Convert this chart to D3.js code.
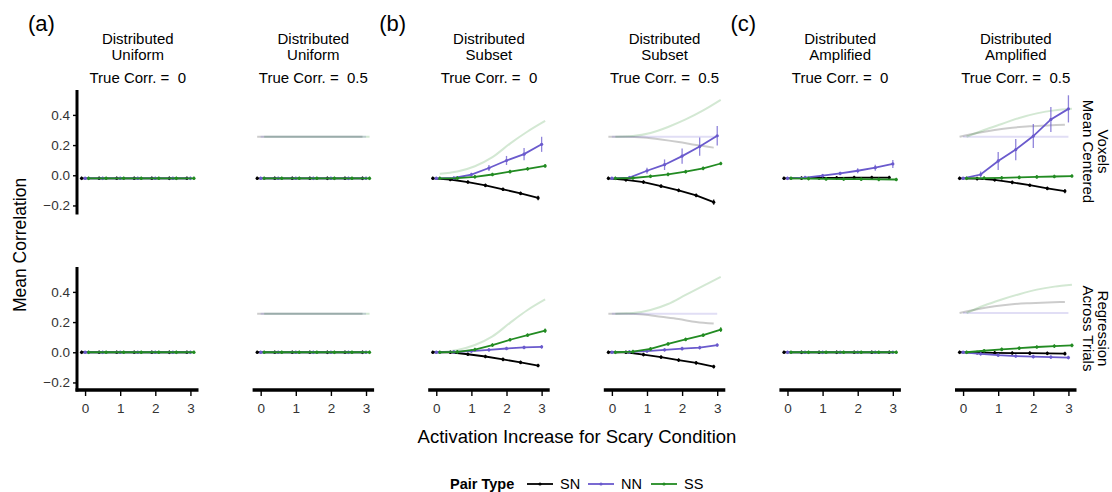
<!DOCTYPE html>
<html>
<head>
<meta charset="utf-8">
<script src="https://cdn.jsdelivr.net/npm/d3@7"></script>
<style>
  html, body { margin: 0; padding: 0; background: #fff; }
  svg text { font-family: "Liberation Sans", Arial, Helvetica, sans-serif; }
</style>
</head>
<body>
<svg id="chart" width="1112" height="492"></svg>
<script>
// Activation steps on the x axis
const steps = [0, 0.5, 1, 1.5, 2, 2.5, 3];
const xTicks = [0, 1, 2, 3];
const yTicks = [-0.2, 0, 0.2, 0.4];

// Facet columns
const colTitles = [
  ["Distributed", "Uniform"], ["Distributed", "Uniform"],
  ["Distributed", "Subset"], ["Distributed", "Subset"],
  ["Distributed", "Amplified"], ["Distributed", "Amplified"]
];
const trueCorr = ["0", "0.5", "0", "0.5", "0", "0.5"];
const groupTags = ["(a)", null, "(b)", null, "(c)", null];

// Facet rows
const rowTitles = [["Voxels", "Mean Centered"], ["Regression", "Across Trials"]];

// Pair types
const pairTypes = ["SN", "NN", "SS"];
const pairColors = ["#000000", "#6A5ACD", "#228B22"];
const pairDodge = [-0.1, 0, 0.1];

const Z = [-0.02, -0.02, -0.02, -0.02, -0.02, -0.02, -0.02];
const O = [0, 0, 0, 0, 0, 0, 0];

// Row 1: voxels, mean centered — mean correlations per column
const voxSN = [
  Z, Z,
  [-0.02, -0.028, -0.045, -0.067, -0.093, -0.12, -0.15],
  [-0.02, -0.03, -0.045, -0.072, -0.1, -0.133, -0.178],
  [-0.02, -0.019, -0.018, -0.017, -0.016, -0.015, -0.015],
  [-0.02, -0.022, -0.03, -0.047, -0.066, -0.087, -0.105]
];
const voxNN = [
  Z, Z,
  [-0.02, -0.018, 0.005, 0.048, 0.098, 0.14, 0.205],
  [-0.02, -0.016, 0.03, 0.07, 0.127, 0.19, 0.262],
  [-0.02, -0.015, -0.003, 0.012, 0.03, 0.05, 0.075],
  [-0.02, 0.005, 0.095, 0.17, 0.26, 0.37, 0.44]
];
const voxSS = [
  Z, Z,
  [-0.02, -0.019, -0.01, 0.005, 0.024, 0.043, 0.062],
  [-0.02, -0.018, -0.007, 0.006, 0.024, 0.046, 0.078],
  [-0.02, -0.022, -0.024, -0.025, -0.026, -0.027, -0.028],
  [-0.02, -0.019, -0.017, -0.014, -0.011, -0.008, -0.005]
];

// Row 1: standard errors
const e0 = [0.002, 0.002, 0.002, 0.002, 0.002, 0.002, 0.002];
const voxSNerr = [
  e0, e0,
  [0.002, 0.004, 0.006, 0.008, 0.01, 0.012, 0.015],
  [0.002, 0.004, 0.006, 0.008, 0.01, 0.013, 0.017],
  e0,
  [0.002, 0.004, 0.006, 0.008, 0.01, 0.012, 0.014]
];
const voxNNerr = [
  e0, e0,
  [0.002, 0.005, 0.01, 0.02, 0.03, 0.04, 0.05],
  [0.002, 0.008, 0.02, 0.035, 0.05, 0.06, 0.065],
  [0.002, 0.004, 0.008, 0.012, 0.016, 0.02, 0.027],
  [0.003, 0.02, 0.06, 0.07, 0.08, 0.083, 0.09]
];
const voxSSerr = [
  e0, e0,
  [0.002, 0.003, 0.004, 0.005, 0.006, 0.008, 0.01],
  [0.002, 0.003, 0.004, 0.005, 0.006, 0.008, 0.01],
  e0, e0
];

// Row 1: underlying true correlations
const F = [0.255, 0.255, 0.255, 0.255, 0.255, 0.255, 0.255];
const voxTrueSN = [null, F, null,
  [0.255, 0.255, 0.25, 0.237, 0.22, 0.2, 0.183], null,
  [0.255, 0.28, 0.3, 0.315, 0.325, 0.33, 0.335]];
const voxTrueNN = [null, F, null, F, null, F];
const voxTrueSS = [null, F,
  [0.01, 0.025, 0.06, 0.12, 0.21, 0.29, 0.36],
  [0.255, 0.26, 0.28, 0.32, 0.37, 0.43, 0.5], null,
  [0.255, 0.3, 0.34, 0.38, 0.41, 0.43, 0.44]];

// Row 2: regression across trials — mean correlations per column
const regSN = [
  O, O,
  [0, 0, -0.013, -0.028, -0.047, -0.067, -0.088],
  [0, 0, -0.015, -0.032, -0.052, -0.07, -0.095],
  O,
  [0, -0.002, -0.004, -0.005, -0.006, -0.007, -0.009]
];
const regNN = [
  O, O,
  [0, 0.002, 0.008, 0.016, 0.025, 0.032, 0.036],
  [0, 0.002, 0.008, 0.016, 0.024, 0.031, 0.048],
  O,
  [0, -0.01, -0.019, -0.025, -0.029, -0.032, -0.035]
];
const regSS = [
  O, O,
  [0, 0.003, 0.018, 0.048, 0.083, 0.113, 0.143],
  [0, 0.004, 0.022, 0.055, 0.085, 0.113, 0.15],
  O,
  [0, 0.01, 0.019, 0.027, 0.035, 0.041, 0.046]
];

// Row 2: standard errors
const regSNerr = [e0, e0,
  [0.002, 0.003, 0.004, 0.005, 0.006, 0.007, 0.008],
  [0.002, 0.003, 0.004, 0.005, 0.006, 0.007, 0.008], e0, e0];
const regNNerr = [e0, e0,
  [0.002, 0.003, 0.004, 0.005, 0.006, 0.007, 0.008],
  [0.002, 0.003, 0.004, 0.005, 0.006, 0.007, 0.009], e0, e0];
const regSSerr = [e0, e0,
  [0.002, 0.004, 0.006, 0.008, 0.01, 0.012, 0.015],
  [0.002, 0.004, 0.006, 0.008, 0.01, 0.012, 0.015], e0,
  [0.002, 0.002, 0.003, 0.003, 0.004, 0.004, 0.005]];

// Row 2: underlying true correlations
const G = [0.256, 0.256, 0.256, 0.256, 0.256, 0.256, 0.256];
const regTrueSN = [null, G, null,
  [0.256, 0.255, 0.25, 0.235, 0.22, 0.2, 0.19], null,
  [0.26, 0.285, 0.305, 0.318, 0.325, 0.33, 0.333]];
const regTrueNN = [null, G, null, G, null,
  [0.26, 0.26, 0.26, 0.26, 0.26, 0.26, 0.26]];
const regTrueSS = [null, G,
  [0, 0.015, 0.048, 0.105, 0.195, 0.28, 0.35],
  [0.256, 0.26, 0.28, 0.32, 0.38, 0.44, 0.5], null,
  [0.26, 0.31, 0.35, 0.385, 0.415, 0.435, 0.447]];

const rowMeans = [[voxSN, voxNN, voxSS], [regSN, regNN, regSS]];
const rowErrs = [[voxSNerr, voxNNerr, voxSSerr], [regSNerr, regNNerr, regSSerr]];
const rowTrue = [[voxTrueSN, voxTrueNN, voxTrueSS], [regTrueSN, regTrueNN, regTrueSS]];

// ---- layout ----
const svg = d3.select("#chart");
const panelW = 121.5, colStep = 175.6, firstLeft = 77;
const rowTop = [90, 267], panelH = 123;
const stripFont = 15, tickFont = 13.5;

const x = d3.scaleLinear().domain([-0.23, 3.23]).range([0, panelW]);
const y = d3.scaleLinear().domain([-0.25, 0.565]).range([panelH, 0]);

const line = d3.line().x(d => x(d[0])).y(d => y(d[1]));
const smooth = d3.line().curve(d3.curveMonotoneX).x(d => x(d[0])).y(d => y(d[1]));

for (let r = 0; r < 2; r++) {
  for (let c = 0; c < 6; c++) {
    const g = svg.append("g")
      .attr("transform", `translate(${firstLeft + c * colStep},${rowTop[r]})`);

    // faint true-correlation curves
    for (let k = 0; k < 3; k++) {
      const t = rowTrue[r][k][c];
      if (!t) continue;
      g.append("path")
        .datum(steps.map((s, i) => [s + pairDodge[k], t[i]]))
        .attr("d", smooth)
        .attr("fill", "none")
        .attr("stroke", pairColors[k])
        .attr("stroke-opacity", 0.2)
        .attr("stroke-width", 2);
    }

    // observed mean correlations with error bars
    for (let k = 0; k < 3; k++) {
      const m = rowMeans[r][k][c];
      const e = rowErrs[r][k][c];
      const pts = steps.map((s, i) => [s + pairDodge[k], m[i], e[i]]);
      g.append("path")
        .datum(pts)
        .attr("d", line)
        .attr("fill", "none")
        .attr("stroke", pairColors[k])
        .attr("stroke-width", 1.8);
      g.selectAll(null).data(pts).enter().append("line")
        .attr("x1", d => x(d[0])).attr("x2", d => x(d[0]))
        .attr("y1", d => y(d[1] - Math.max(d[2], 0.012)))
        .attr("y2", d => y(d[1] + Math.max(d[2], 0.012)))
        .attr("stroke", pairColors[k])
        .attr("stroke-opacity", k === 1 ? 0.75 : 0.9)
        .attr("stroke-width", 1.3);
      g.selectAll(null).data(pts).enter().append("circle")
        .attr("cx", d => x(d[0])).attr("cy", d => y(d[1]))
        .attr("r", 1.6)
        .attr("fill", pairColors[k]);
    }

    // y axis on the first column
    if (c === 0) {
      const ya = g.append("g")
        .call(d3.axisLeft(y).tickValues(yTicks).tickSize(4).tickPadding(3)
          .tickFormat(d3.format(".1f")));
      ya.select(".domain").remove();
      ya.selectAll(".tick line").attr("stroke-width", 1.4);
      ya.selectAll(".tick text").attr("font-size", tickFont).attr("fill", "#333")
        .text(d => d3.format(".1f")(d).replace("-", "\u2212"));
      g.append("line")
        .attr("x1", 0).attr("x2", 0)
        .attr("y1", 0).attr("y2", panelH + 1.5)
        .attr("stroke", "#000").attr("stroke-width", 3);
    }

    // x axis on the bottom row
    if (r === 1) {
      const xa = g.append("g")
        .attr("transform", `translate(0,${panelH})`)
        .call(d3.axisBottom(x).tickValues(xTicks).tickSize(6).tickPadding(7)
          .tickFormat(d3.format("d")));
      xa.select(".domain").remove();
      xa.selectAll(".tick line").attr("stroke-width", 1.4);
      xa.selectAll(".tick text").attr("font-size", tickFont).attr("fill", "#333");
      g.append("line")
        .attr("x1", c === 0 ? -1.5 : 0).attr("x2", panelW)
        .attr("y1", panelH).attr("y2", panelH)
        .attr("stroke", "#000").attr("stroke-width", 3.5);
    }

    // column strips
    if (r === 0) {
      const cx = panelW / 2;
      g.append("text").attr("x", cx).attr("y", 44 - rowTop[0])
        .attr("text-anchor", "middle").attr("font-size", stripFont).text(colTitles[c][0]);
      g.append("text").attr("x", cx).attr("y", 60 - rowTop[0])
        .attr("text-anchor", "middle").attr("font-size", stripFont).text(colTitles[c][1]);
      g.append("text").attr("x", cx).attr("y", 83 - rowTop[0])
        .attr("text-anchor", "middle").attr("font-size", stripFont)
        .style("white-space", "pre")
        .text("True Corr. =  " + trueCorr[c]);
      if (groupTags[c]) {
        g.append("text").attr("x", -49).attr("y", 31 - rowTop[0])
          .attr("font-size", 22).text(groupTags[c]);
      }
    }

    // row strips, reading top to bottom
    if (c === 5) {
      const sg = g.append("g")
        .attr("transform", `translate(${1083 - (firstLeft + c * colStep)},${panelH / 2}) rotate(90)`);
      sg.append("text").attr("x", 0).attr("y", -15)
        .attr("text-anchor", "middle").attr("font-size", stripFont).text(rowTitles[r][0]);
      sg.append("text").attr("x", 0).attr("y", 0)
        .attr("text-anchor", "middle").attr("font-size", stripFont).text(rowTitles[r][1]);
    }
  }
}

// axis titles
svg.append("text")
  .attr("transform", `translate(26,245) rotate(-90)`)
  .attr("text-anchor", "middle").attr("font-size", 17.5)
  .text("Mean Correlation");
svg.append("text")
  .attr("x", 577).attr("y", 443)
  .attr("text-anchor", "middle").attr("font-size", 18.5)
  .text("Activation Increase for Scary Condition");

// legend
const lg = svg.append("g").attr("transform", "translate(450,484)");
lg.append("text").attr("x", 0).attr("y", 5)
  .attr("font-size", 14.5).attr("font-weight", "bold").text("Pair Type");
const keyX = [77, 138, 201];
pairTypes.forEach((p, k) => {
  const kg = lg.append("g").attr("transform", `translate(${keyX[k]},0)`);
  kg.append("line").attr("x1", 0).attr("x2", 26).attr("y1", 0).attr("y2", 0)
    .attr("stroke", pairColors[k]).attr("stroke-width", 1.8);
  kg.append("circle").attr("cx", 13).attr("cy", 0).attr("r", 1.6).attr("fill", pairColors[k]);
  kg.append("text").attr("x", 33).attr("y", 5).attr("font-size", 14.5).text(p);
});
</script>
</body>
</html>
